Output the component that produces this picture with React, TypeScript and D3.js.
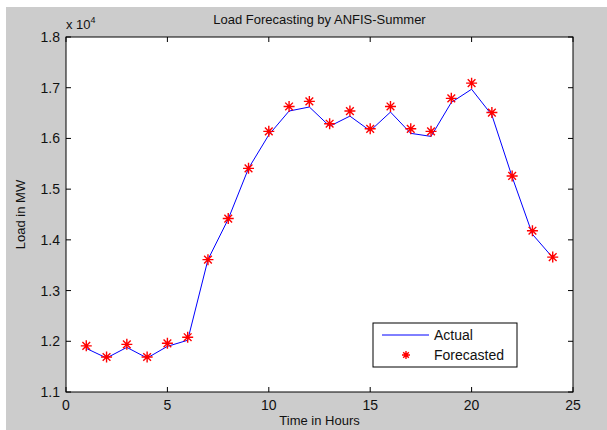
import React, { useRef, useEffect } from "react";
import * as d3 from "d3";

// hours and loads (MW)
const hours = [1, 2, 3, 4, 5, 6, 7, 8, 9, 10, 11, 12, 13, 14, 15, 16, 17, 18, 19, 20, 21, 22, 23, 24];
const actual = [11860, 11670, 11880, 11670, 11900, 12020, 13610, 14410, 15410, 16070, 16540, 16620,
  16240, 16440, 16150, 16520, 16100, 16040, 16710, 16970, 16460, 15240, 14110, 13650];
const forecasted = [11910, 11690, 11940, 11690, 11960, 12080, 13610, 14420, 15410, 16140, 16630, 16730,
  16290, 16540, 16190, 16630, 16190, 16140, 16790, 17090, 16510, 15260, 14180, 13660];
const xTicks = [0, 5, 10, 15, 20, 25];
const yTicks = [11000, 12000, 13000, 14000, 15000, 16000, 17000, 18000];

const App = () => {
  const svgRef = useRef<SVGSVGElement>(null);

  useEffect(() => {
    const width = 607, height = 430;
    const margin = { top: 37, right: 34, bottom: 38, left: 66 };
    const font = "'Liberation Sans', Arial, sans-serif";

    const svg = d3.select(svgRef.current)
      .attr("width", width)
      .attr("height", height);
    svg.selectAll("*").remove();

    // figure background
    svg.append("rect")
      .attr("x", 6).attr("y", 7)
      .attr("width", width - 6).attr("height", height - 7)
      .attr("fill", "#cccccc");

    const x = d3.scaleLinear().domain([0, 25]).range([margin.left, width - margin.right]);
    const y = d3.scaleLinear().domain([11000, 18000]).range([height - margin.bottom, margin.top]);

    const [x0, x1] = x.range();
    const [y0, y1] = y.range();

    svg.append("rect")
      .attr("x", x0).attr("y", y1)
      .attr("width", x1 - x0).attr("height", y0 - y1)
      .attr("fill", "#fff");

    const g = svg.append("g");

    // ticks on all four sides (inward)
    const tl = 5;
    xTicks.forEach(t => {
      g.append("line").attr("x1", x(t)).attr("x2", x(t)).attr("y1", y0).attr("y2", y0 - tl)
        .attr("stroke", "#000");
      g.append("line").attr("x1", x(t)).attr("x2", x(t)).attr("y1", y1).attr("y2", y1 + tl)
        .attr("stroke", "#000");
      g.append("text").attr("x", x(t)).attr("y", y0 + 18)
        .attr("text-anchor", "middle").style("font-family", font).style("font-size", "14px")
        .attr("fill", "#111").text(t);
    });
    yTicks.forEach(t => {
      g.append("line").attr("x1", x0).attr("x2", x0 + tl).attr("y1", y(t)).attr("y2", y(t))
        .attr("stroke", "#000");
      g.append("line").attr("x1", x1).attr("x2", x1 - tl).attr("y1", y(t)).attr("y2", y(t))
        .attr("stroke", "#000");
      g.append("text").attr("x", x0 - 6).attr("y", y(t) + 5)
        .attr("text-anchor", "end").style("font-family", font).style("font-size", "14px")
        .attr("fill", "#111").text((t / 10000).toFixed(1));
    });

    // axes box
    svg.append("rect")
      .attr("x", x0).attr("y", y1)
      .attr("width", x1 - x0).attr("height", y0 - y1)
      .attr("fill", "none").attr("stroke", "#000").attr("stroke-width", 1);

    // exponent
    const exp = svg.append("text").attr("x", x0).attr("y", y1 - 8)
      .style("font-family", font).style("font-size", "13px").attr("fill", "#111");
    exp.append("tspan").text("x 10");
    exp.append("tspan").attr("dy", -6).style("font-size", "9px").text("4");

    // actual line
    const line = d3.line<number>()
      .x((_, i) => x(hours[i]))
      .y(d => y(d));
    svg.append("path")
      .datum(actual)
      .attr("fill", "none")
      .attr("stroke", "#0000ff")
      .attr("stroke-width", 1)
      .attr("d", line);

    // star markers
    const star = (cx: number, cy: number, r: number) => {
      const d = r * 0.7;
      return `M${cx - r},${cy}L${cx + r},${cy}M${cx},${cy - r}L${cx},${cy + r}` +
        `M${cx - d},${cy - d}L${cx + d},${cy + d}M${cx - d},${cy + d}L${cx + d},${cy - d}`;
    };
    svg.selectAll(".star")
      .data(forecasted)
      .enter().append("path")
      .attr("class", "star")
      .attr("d", (d, i) => star(x(hours[i]), y(d), 5.5))
      .attr("fill", "none")
      .attr("stroke", "#ff0000")
      .attr("stroke-width", 1.4);

    // title and labels
    svg.append("text").attr("x", (x0 + x1) / 2).attr("y", 24)
      .attr("text-anchor", "middle").style("font-family", font).style("font-size", "13px")
      .attr("fill", "#111").text("Load Forecasting by ANFIS-Summer");
    svg.append("text").attr("x", (x0 + x1) / 2).attr("y", 425)
      .attr("text-anchor", "middle").style("font-family", font).style("font-size", "13px")
      .attr("fill", "#111").text("Time in Hours");
    svg.append("text")
      .attr("transform", `translate(25, ${(y0 + y1) / 2}) rotate(-90)`)
      .attr("text-anchor", "middle").style("font-family", font).style("font-size", "13px")
      .attr("fill", "#111").text("Load in MW");

    // legend
    const lg = svg.append("g");
    lg.append("rect").attr("x", 373).attr("y", 323).attr("width", 144).attr("height", 44)
      .attr("fill", "#fff").attr("stroke", "#000");
    lg.append("line").attr("x1", 382).attr("x2", 429).attr("y1", 335).attr("y2", 335)
      .attr("stroke", "#0000ff");
    lg.append("text").attr("x", 434).attr("y", 340)
      .style("font-family", font).style("font-size", "14px").attr("fill", "#111").text("Actual");
    lg.append("path").attr("d", star(406, 355, 4)).attr("stroke", "#ff0000")
      .attr("stroke-width", 1.4).attr("fill", "none");
    lg.append("text").attr("x", 434).attr("y", 360)
      .style("font-family", font).style("font-size", "14px").attr("fill", "#111").text("Forecasted");
  }, []);

  return (
    <div style={{ position: "absolute", left: 0, top: 0 }}>
      <svg ref={svgRef} style={{ display: "block" }}></svg>
    </div>
  );
};

export default App;
